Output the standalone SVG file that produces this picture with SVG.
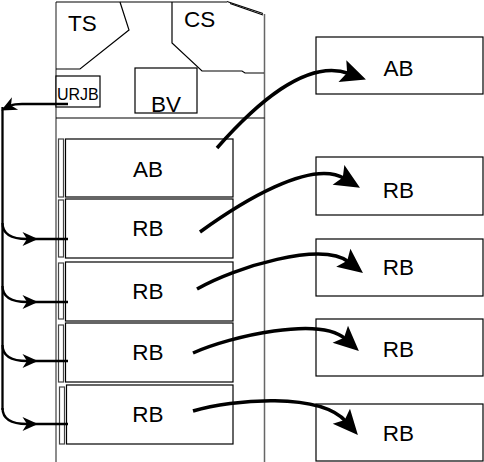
<svg xmlns="http://www.w3.org/2000/svg" width="484" height="462" viewBox="0 0 484 462">
<style>
  .lbl { font-family: "Liberation Sans", Arial, sans-serif; font-size: 22.5px; fill: #000; }
  .sm { font-family: "Liberation Sans", Arial, sans-serif; font-size: 16px; fill: #000; }
  .box { fill: #fff; stroke: #000; stroke-width: 1.2; }
  .slot { fill: #fff; stroke: #444; stroke-width: 1.2; }
  .thin { fill: none; stroke: #000; stroke-width: 1.2; }
  .edge { fill: none; stroke: #666; stroke-width: 1.5; }
  .big { fill: none; stroke: #000; stroke-width: 3.5; }
  .bus { fill: none; stroke: #000; stroke-width: 2.3; }
</style>
<defs>
  <marker id="bigHead" markerUnits="userSpaceOnUse" viewBox="-9 -13 30 26" refX="0" refY="0" markerWidth="30" markerHeight="26" orient="auto">
    <path d="M18,0 L-7,-11.5 L-2,0 L-7,11.5 Z" fill="#000"/>
  </marker>
  <marker id="smallHead" markerUnits="userSpaceOnUse" viewBox="-6 -8 18 16" refX="0" refY="0" markerWidth="18" markerHeight="16" orient="auto">
    <path d="M11,0 L-4.5,-7 L0,0 L-4.5,7 Z" fill="#000"/>
  </marker>
</defs>
<rect width="484" height="462" fill="#fff"/>

<g id="cabinet">
  <line x1="56" y1="2" x2="56" y2="462" class="edge"/>
  <line x1="264.5" y1="14" x2="264.5" y2="462" class="edge"/>
  <line x1="56" y1="2" x2="227" y2="2" class="thin"/>
  <line x1="227" y1="1.5" x2="263" y2="13.5" class="thin"/>
  <line x1="230" y1="3.5" x2="263" y2="15" class="thin"/>
  <line x1="56" y1="118" x2="264.5" y2="118" class="thin"/>
</g>

<g id="TS">
  <polyline points="120,2 129,30 80,69 56,69" class="thin"/>
  <text x="68" y="31" class="lbl">TS</text>
</g>
<g id="CS">
  <polyline points="172,2 172,43 202,71 242,71 245,73 264,73" class="thin"/>
  <text x="184" y="27" class="lbl">CS</text>
</g>
<g id="BV">
  <rect x="135" y="68" width="62" height="45" class="box"/>
  <text x="151" y="112" class="lbl">BV</text>
</g>
<g id="URJB">
  <rect x="56" y="76" width="44" height="31" class="box"/>
  <text x="57" y="100" class="sm">URJB</text>
</g>

<g id="slot-AB">
  <rect x="58.5" y="139" width="5" height="58" class="slot"/>
  <rect x="65.5" y="139" width="167.5" height="58" class="box"/>
  <text x="148" y="176.5" text-anchor="middle" class="lbl">AB</text>
</g>
<g id="slot-RB1">
  <rect x="58.5" y="200" width="5" height="57" class="slot"/>
  <rect x="65.5" y="199" width="167.5" height="59" class="box"/>
  <text x="148" y="236" text-anchor="middle" class="lbl">RB</text>
</g>
<g id="slot-RB2">
  <rect x="58.5" y="263" width="5" height="56" class="slot"/>
  <rect x="65.5" y="262" width="167.5" height="59" class="box"/>
  <text x="148" y="299" text-anchor="middle" class="lbl">RB</text>
</g>
<g id="slot-RB3">
  <rect x="58.5" y="325" width="5" height="57" class="slot"/>
  <rect x="65.5" y="323" width="167.5" height="59" class="box"/>
  <text x="148" y="360" text-anchor="middle" class="lbl">RB</text>
</g>
<g id="slot-RB4">
  <rect x="59.5" y="387" width="5" height="57" class="slot"/>
  <rect x="66.5" y="385" width="166.5" height="59" class="box"/>
  <text x="148" y="422" text-anchor="middle" class="lbl">RB</text>
</g>

<g id="target-AB">
  <rect x="316" y="37" width="167" height="57" class="box"/>
  <text x="398.5" y="76" text-anchor="middle" class="lbl">AB</text>
</g>
<g id="target-RB1">
  <rect x="316" y="157" width="167" height="58" class="box"/>
  <text x="398.5" y="198" text-anchor="middle" class="lbl">RB</text>
</g>
<g id="target-RB2">
  <rect x="316" y="239" width="167" height="57" class="box"/>
  <text x="398.5" y="275" text-anchor="middle" class="lbl">RB</text>
</g>
<g id="target-RB3">
  <rect x="316" y="319" width="167" height="57" class="box"/>
  <text x="398.5" y="357" text-anchor="middle" class="lbl">RB</text>
</g>
<g id="target-RB4">
  <rect x="316" y="404" width="167" height="57" class="box"/>
  <text x="398.5" y="441" text-anchor="middle" class="lbl">RB</text>
</g>

<g id="connectors">
  <path d="M217,148 C255,105 306,58 349,73.5" class="big" marker-end="url(#bigHead)"/>
  <path d="M200,232 C240,203 311,158.6 344.5,178.5" class="big" marker-end="url(#bigHead)"/>
  <path d="M197,289 C235,267 322,241 348.8,262" class="big" marker-end="url(#bigHead)"/>
  <path d="M193,353 C231,336 320,316 345.5,339" class="big" marker-end="url(#bigHead)"/>
  <path d="M193,411 C233,399 320,392 346,421.5" class="big" marker-end="url(#bigHead)"/>

  <path d="M68,104 L22,104 C16,104 14,104 11,105.5" class="bus" marker-end="url(#smallHead)"/>
  <line x1="2.5" y1="107" x2="2.5" y2="410" class="bus"/>
  <path d="M2.5,223 C2.5,235 12,239 27,239 L68,239" class="bus" marker-mid="url(#smallHead)"/>
  <path d="M2.5,286 C2.5,298 12,302 27,302 L68,302" class="bus" marker-mid="url(#smallHead)"/>
  <path d="M2.5,345 C2.5,357 12,361 27,361 L68,361" class="bus" marker-mid="url(#smallHead)"/>
  <path d="M2.5,408 C2.5,420 12,424 27,424 L68,424" class="bus" marker-mid="url(#smallHead)"/>
</g>
</svg>
